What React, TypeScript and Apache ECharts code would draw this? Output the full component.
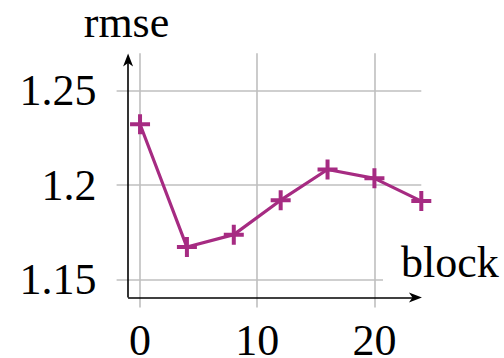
import React, { useEffect, useRef } from "react";
import * as echarts from "echarts";

// Block index and the measured error at each block
const blocks = [0, 4, 8, 12, 16, 20, 24];
const rmse = [1.2323, 1.1671, 1.1737, 1.192, 1.2083, 1.2036, 1.1915];

// Tick positions shown on each axis
const xTicks = [0, 10, 20];
const yTicks = [1.15, 1.2, 1.25];

// Visible extent of the plot area and where the arrowed axes sit
const X_MIN = -2;
const X_MAX = 24;
const Y_MIN = 1.135;
const Y_MAX = 1.27;
const AXIS_X = -1.02;
const AXIS_Y = 1.1403;
const X_ARROW_END = 23.5;
const Y_ARROW_END = 1.2665;

const FONT = "'Liberation Serif', 'Times New Roman', serif";
const PURPLE = "#a62b82";
const GRID_GREY = "#bfbfbf";

// Stealth-style arrow head, pointing up (rotated along the line by ECharts)
const ARROW = "path://M5,0 L10,13 L5,9.5 L0,13 Z";
// Filled plus sign used as the point marker
const PLUS = "path://M8,0 H12 V8 H20 V12 H12 V20 H8 V12 H0 V8 H8 Z";

export default function App() {
  const ref = useRef<HTMLDivElement>(null);

  useEffect(() => {
    document.body.style.margin = "0";
    const chart = echarts.init(ref.current!, null, { renderer: "svg" });
    chart.setOption({
      animation: false,
      backgroundColor: "#ffffff",
      grid: {
        left: 116.6,
        top: 53.3,
        width: 304.7,
        height: 254.2,
        containLabel: false,
        outerBoundsMode: "none",
      },
      xAxis: {
        type: "value",
        min: X_MIN,
        max: X_MAX,
        axisLine: { show: false },
        axisTick: { show: false },
        splitLine: { show: false },
        axisLabel: {
          customValues: xTicks,
          color: "#000",
          fontFamily: FONT,
          fontSize: 44,
          lineHeight: 30,
          margin: 18,
        },
      },
      yAxis: {
        type: "value",
        min: Y_MIN,
        max: Y_MAX,
        axisLine: { show: false },
        axisTick: { show: false },
        splitLine: { show: false },
        axisLabel: {
          customValues: yTicks,
          color: "#000",
          fontFamily: FONT,
          fontSize: 44,
          lineHeight: 30,
          margin: 20,
          formatter: (v: number) => String(v),
        },
      },
      graphic: [
        {
          type: "text",
          x: 126.5,
          y: 22,
          style: {
            text: "rmse",
            fill: "#000",
            font: `44px ${FONT}`,
            lineHeight: 24,
            textAlign: "center",
            textVerticalAlign: "middle",
          },
        },
        {
          type: "text",
          x: 383,
          y: 262,
          z: 50,
          style: {
            text: "block",
            fill: "#000",
            font: `44px ${FONT}`,
            lineHeight: 40,
            textAlign: "left",
            textVerticalAlign: "middle",
            backgroundColor: "#ffffff",
            padding: [2, 2, 2, 18],
          },
        },
      ],
      series: [
        {
          // grid lines at the tick values
          type: "line",
          data: [],
          silent: true,
          z: 1,
          markLine: {
            silent: true,
            symbol: ["none", "none"],
            label: { show: false },
            lineStyle: { color: GRID_GREY, width: 1.6, type: "solid" },
            data: [
              ...xTicks.map((v) => ({ xAxis: v })),
              ...yTicks.map((v) => ({ yAxis: v })),
            ],
          },
        },
        {
          // arrowed axes
          type: "line",
          data: [],
          silent: true,
          z: 2,
          markLine: {
            silent: true,
            symbol: ["none", ARROW],
            symbolSize: [10, 13],
            label: { show: false },
            lineStyle: { color: "#000", width: 1.6, type: "solid" },
            data: [
              [{ coord: [AXIS_X, AXIS_Y] }, { coord: [X_ARROW_END, AXIS_Y] }],
              [{ coord: [AXIS_X, AXIS_Y] }, { coord: [AXIS_X, Y_ARROW_END] }],
            ],
          },
        },
        {
          name: "rmse",
          type: "line",
          z: 5,
          data: blocks.map((b, i) => [b, rmse[i]]),
          lineStyle: { color: PURPLE, width: 3.2 },
          itemStyle: { color: PURPLE },
          symbol: PLUS,
          symbolSize: 20,
          showSymbol: true,
        },
      ],
    });
    return () => chart.dispose();
  }, []);

  return <div ref={ref} style={{ width: 504, height: 358 }} />;
}
